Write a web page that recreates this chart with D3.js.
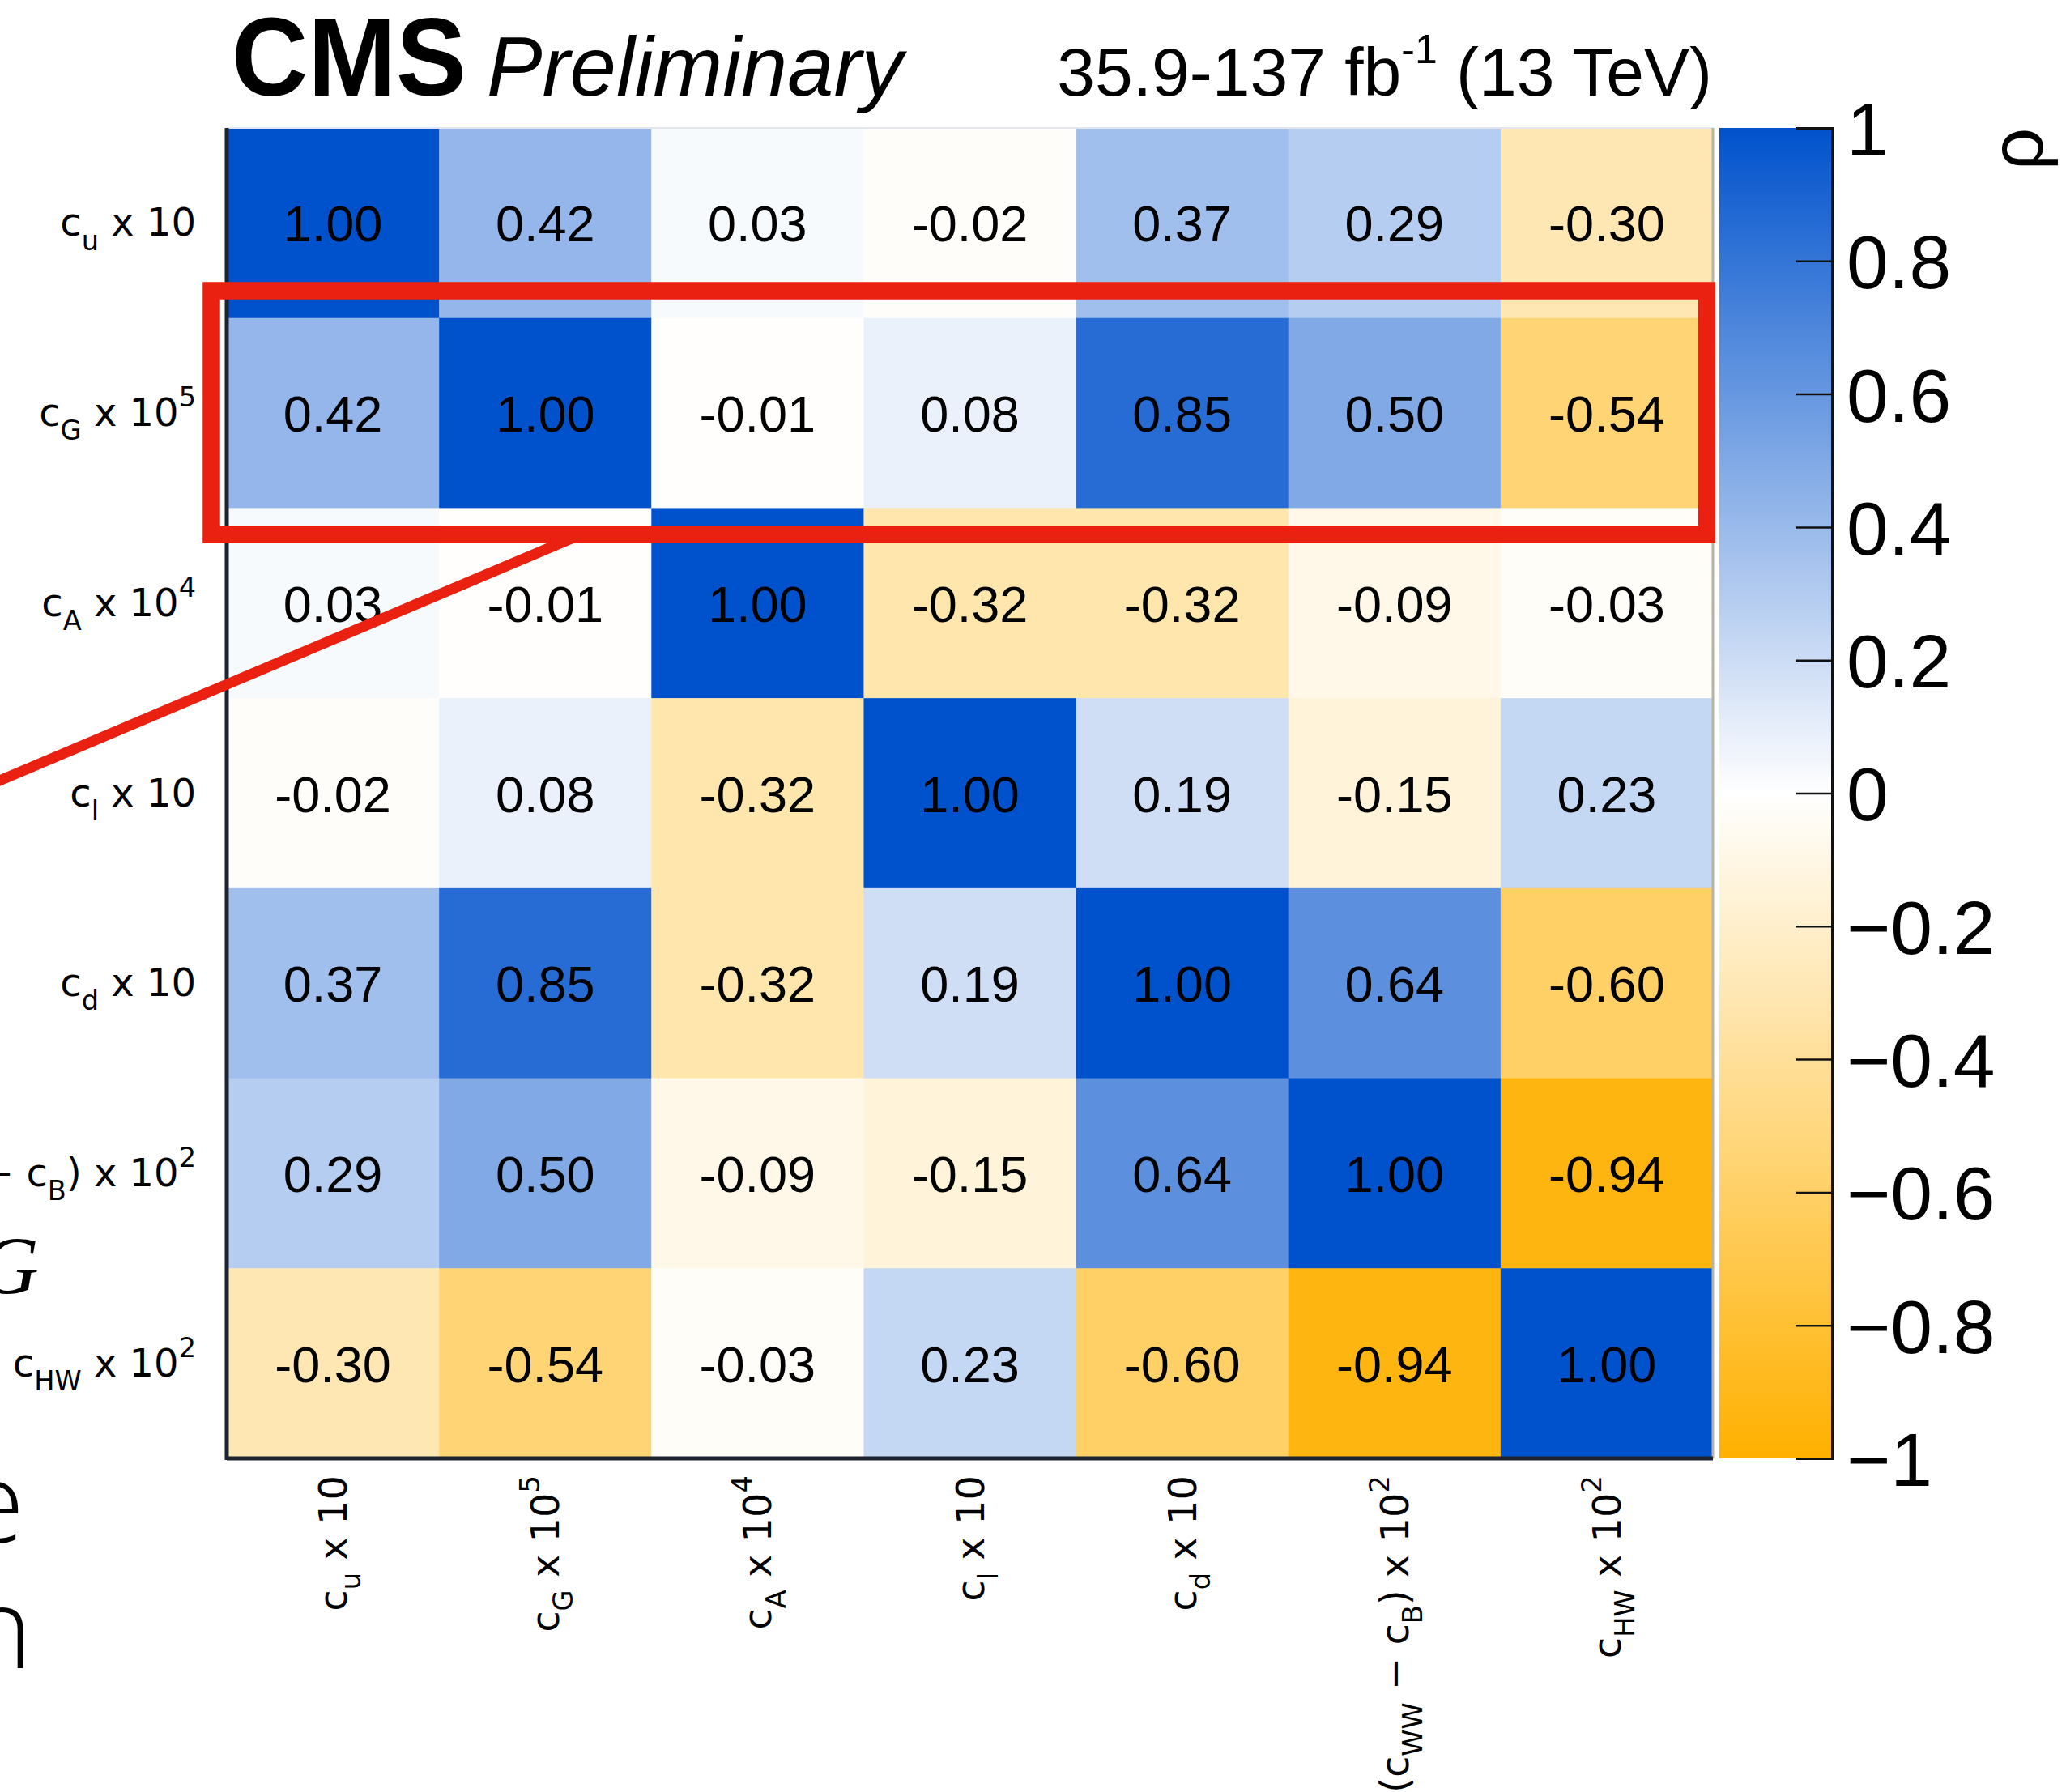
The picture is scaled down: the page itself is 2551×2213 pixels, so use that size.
<!DOCTYPE html>
<html>
<head>
<meta charset="utf-8">
<script src="https://cdn.jsdelivr.net/npm/d3@7"></script>
<style>
  html, body { margin: 0; padding: 0; background: #ffffff; }
  svg { display: block; }
</style>
</head>
<body>
<svg id="chart" width="2551" height="2213"></svg>
<script>
// Correlation matrix of the fitted Wilson coefficients
const params = ["cu", "cG", "cA", "cl", "cd", "cWWB", "cHW"];

// Label pieces: [text, "sub" | "sup" | undefined]
const labelCu   = [["c"], ["u", "sub"], [" x 10"]];
const labelCG   = [["c"], ["G", "sub"], [" x 10"], ["5", "sup"]];
const labelCA   = [["c"], ["A", "sub"], [" x 10"], ["4", "sup"]];
const labelCl   = [["c"], ["l", "sub"], [" x 10"]];
const labelCd   = [["c"], ["d", "sub"], [" x 10"]];
const labelCWWB = [["(c"], ["WW", "sub"], [" \u2212 c"], ["B", "sub"], [") x 10"], ["2", "sup"]];
const labelCHW  = [["c"], ["HW", "sub"], [" x 10"], ["2", "sup"]];
const paramLabels = [labelCu, labelCG, labelCA, labelCl, labelCd, labelCWWB, labelCHW];

// One row per coefficient (top to bottom), columns in the same order
const rowCu   = [ 1.00,  0.42,  0.03, -0.02,  0.37,  0.29, -0.30];
const rowCG   = [ 0.42,  1.00, -0.01,  0.08,  0.85,  0.50, -0.54];
const rowCA   = [ 0.03, -0.01,  1.00, -0.32, -0.32, -0.09, -0.03];
const rowCl   = [-0.02,  0.08, -0.32,  1.00,  0.19, -0.15,  0.23];
const rowCd   = [ 0.37,  0.85, -0.32,  0.19,  1.00,  0.64, -0.60];
const rowCWWB = [ 0.29,  0.50, -0.09, -0.15,  0.64,  1.00, -0.94];
const rowCHW  = [-0.30, -0.54, -0.03,  0.23, -0.60, -0.94,  1.00];
const corrRows = [rowCu, rowCG, rowCA, rowCl, rowCd, rowCWWB, rowCHW];

// Colour-bar ticks
const zTicks = [1, 0.8, 0.6, 0.4, 0.2, 0, -0.2, -0.4, -0.6, -0.8, -1];

// Header texts
const expLabel = "CMS";
const statusLabel = "Preliminary";
const lumiMain = "35.9-137 fb";
const lumiSup = "-1";
const lumiTail = " (13 TeV)";

const svg = d3.select("#chart");

// ---- geometry ----
const plot = { left: 280, right: 2115, top: 158, bottom: 1801 };
const bar = { left: 2123, right: 2262 };

const x = d3.scaleBand().domain(params).range([plot.left, plot.right]);
const y = d3.scaleBand().domain(params).range([plot.top, plot.bottom]);
const color = d3.scaleLinear().domain([-1, 0, 1])
  .range(["#ffb000", "#ffffff", "#0052cc"]).interpolate(d3.interpolateRgb);
const zScale = d3.scaleLinear().domain([-1, 1]).range([plot.bottom, plot.top]);

const cells = [];
corrRows.forEach((row, i) => row.forEach((v, j) => cells.push({ r: params[i], c: params[j], v })));

// ---- heat map cells ----
const gCells = svg.append("g");
gCells.selectAll("rect").data(cells).join("rect")
  .attr("x", d => x(d.c))
  .attr("y", d => y(d.r))
  .attr("width", x.bandwidth() + 0.5)
  .attr("height", y.bandwidth() + 0.5)
  .attr("fill", d => color(d.v));

gCells.selectAll("text").data(cells).join("text")
  .attr("x", d => x(d.c) + x.bandwidth() / 2)
  .attr("y", d => y(d.r) + y.bandwidth() / 2 + 23)
  .attr("text-anchor", "middle")
  .attr("font-family", "'Liberation Sans', Arial, sans-serif")
  .attr("font-size", 63)
  .attr("fill", "#000")
  .text(d => d.v.toFixed(2));

// ---- frame ----
const frame = svg.append("g");
frame.append("line").attr("x1", plot.left).attr("x2", plot.right).attr("y1", plot.top).attr("y2", plot.top)
  .attr("stroke", "#e4e6ee").attr("stroke-width", 2);
frame.append("line").attr("x1", plot.right).attr("x2", plot.right).attr("y1", plot.top).attr("y2", plot.bottom)
  .attr("stroke", "#b9b3a6").attr("stroke-width", 3);
frame.append("line").attr("x1", plot.left).attr("x2", plot.left).attr("y1", plot.top).attr("y2", plot.bottom + 2)
  .attr("stroke", "#1d2330").attr("stroke-width", 5);
frame.append("line").attr("x1", plot.left).attr("x2", plot.right).attr("y1", plot.bottom).attr("y2", plot.bottom)
  .attr("stroke", "#1d2330").attr("stroke-width", 5);

// ---- axis labels with sub/superscripts ----
const labelFont = "'DejaVu Sans', Verdana, sans-serif";
const labelSize = 48;
function writeLabel(textSel, parts, size) {
  let off = 0;
  parts.forEach(([t, kind]) => {
    const target = kind === "sub" ? 0.36 * size : kind === "sup" ? -0.5 * size : 0;
    textSel.append("tspan")
      .attr("dy", target - off)
      .attr("font-size", kind ? size * 0.7 : size)
      .text(t);
    off = target;
  });
}

// row labels (left)
params.forEach((p, i) => {
  const t = svg.append("text")
    .attr("x", 242)
    .attr("y", y(p) + y.bandwidth() / 2 + 16)
    .attr("text-anchor", "end")
    .attr("font-family", labelFont)
    .attr("font-size", labelSize)
    .attr("fill", "#000");
  writeLabel(t, paramLabels[i], labelSize);
});

// column labels (bottom, vertical)
params.forEach((p, j) => {
  const cx = x(p) + x.bandwidth() / 2 + 17;
  const t = svg.append("text")
    .attr("transform", `translate(${cx},1822) rotate(-90)`)
    .attr("text-anchor", "end")
    .attr("font-family", labelFont)
    .attr("font-size", labelSize)
    .attr("fill", "#000");
  writeLabel(t, paramLabels[j], labelSize);
});

// ---- colour bar ----
const defs = svg.append("defs");
const grad = defs.append("linearGradient").attr("id", "zgrad")
  .attr("x1", 0).attr("x2", 0).attr("y1", 0).attr("y2", 1);
d3.range(0, 41).forEach(k => {
  const v = 1 - k / 20;
  grad.append("stop").attr("offset", (k / 40 * 100) + "%").attr("stop-color", color(v));
});
svg.append("rect")
  .attr("x", bar.left).attr("y", plot.top)
  .attr("width", bar.right - bar.left).attr("height", plot.bottom - plot.top)
  .attr("fill", "url(#zgrad)");

const zAxis = d3.axisRight(zScale)
  .tickValues(zTicks)
  .tickSize(-45)
  .tickPadding(18)
  .tickFormat(d => d === 0 ? "0" : (d < 0 ? "\u2212" : "") + d3.format("~g")(Math.abs(d)));
const gz = svg.append("g").attr("transform", `translate(${bar.right},0)`).call(zAxis);
gz.select(".domain").attr("stroke", "#111").attr("stroke-width", 3);
gz.selectAll(".tick line").attr("stroke", "#111").attr("stroke-width", 2.5);
gz.selectAll(".tick text")
  .attr("font-family", "'Liberation Sans', Arial, sans-serif")
  .attr("font-size", 93)
  .attr("fill", "#000")
  .attr("dy", "0.36em");

// colour-bar title
svg.append("text")
  .attr("transform", `translate(2522,158) rotate(-90)`)
  .attr("text-anchor", "end")
  .attr("font-family", "'Liberation Sans', Arial, sans-serif")
  .attr("font-size", 92)
  .attr("fill", "#000")
  .text("\u03c1");

// ---- header ----
svg.append("text")
  .attr("x", 286).attr("y", 118)
  .attr("font-family", "'Liberation Sans', Arial, sans-serif")
  .attr("font-weight", "bold")
  .attr("font-size", 138)
  .attr("textLength", 290).attr("lengthAdjust", "spacingAndGlyphs")
  .text(expLabel);
svg.append("text")
  .attr("x", 601).attr("y", 118)
  .attr("font-family", "'Liberation Sans', Arial, sans-serif")
  .attr("font-style", "italic")
  .attr("font-size", 104)
  .attr("textLength", 514).attr("lengthAdjust", "spacingAndGlyphs")
  .text(statusLabel);
const lumi = svg.append("text")
  .attr("x", 2114).attr("y", 118)
  .attr("text-anchor", "end")
  .attr("font-family", "'Liberation Sans', Arial, sans-serif")
  .attr("font-size", 84)
  .attr("fill", "#000");
lumi.append("tspan").text(lumiMain);
lumi.append("tspan").attr("dy", -40).attr("font-size", 50).text(lumiSup);
lumi.append("tspan").attr("dy", 40).text(lumiTail);

// ---- highlight box and pointer ----
svg.append("rect")
  .attr("x", 261).attr("y", 359)
  .attr("width", 2107.5 - 261).attr("height", 660 - 359)
  .attr("fill", "none")
  .attr("stroke", "#ea2010")
  .attr("stroke-width", 21.5);
svg.append("line")
  .attr("x1", 708).attr("y1", 664)
  .attr("x2", -10).attr("y2", 968)
  .attr("stroke", "#ea2010")
  .attr("stroke-width", 13);

// ---- slide text running in from the left edge ----
svg.append("text")
  .attr("x", 48).attr("y", 1598)
  .attr("text-anchor", "end")
  .attr("font-family", "'Liberation Serif', 'DejaVu Serif', serif")
  .attr("font-style", "italic")
  .attr("font-size", 102)
  .text("G");
svg.append("text")
  .attr("x", 30).attr("y", 1905)
  .attr("text-anchor", "end")
  .attr("font-family", "'Open Sans', Lato, sans-serif")
  .attr("font-weight", 300)
  .attr("font-size", 138)
  .text("e");
svg.append("text")
  .attr("x", 40).attr("y", 2060)
  .attr("text-anchor", "end")
  .attr("font-family", "'Open Sans', Lato, sans-serif")
  .attr("font-weight", 300)
  .attr("font-size", 138)
  .text("n");
</script>
</body>
</html>
